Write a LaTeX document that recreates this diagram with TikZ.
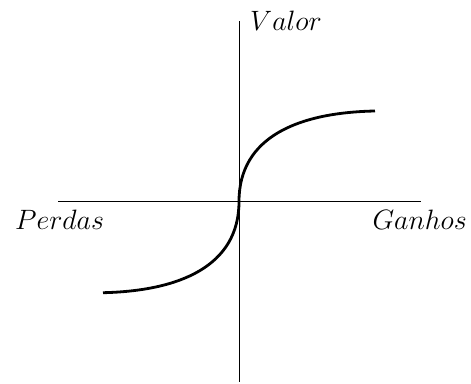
\documentclass[tikz,border=0pt]{standalone}
\begin{document}
\begin{tikzpicture}[x=1pt,y=-1pt,
  axis/.style={line width=0.9pt},
  curve/.style={line width=2.8pt},
  lbl/.style={inner sep=0pt,scale=1.125,font=\fontsize{24.88}{30}\selectfont}]
\useasboundingbox (0,0) rectangle (471,383);
\coordinate (o) at (239,201.5);
\coordinate (xl) at (58,201.5);
\coordinate (xr) at (421,201.5);
\coordinate (yt) at (239,21);
\coordinate (yb) at (239,382);
\coordinate (p) at (103,292.7);
\coordinate (g) at (375,111);
\draw[axis] (xl) -- (xr);
\draw[axis] (yt) -- (yb);
\draw[curve] (p) .. controls (179,291) and (239,266.5) .. (o)
  .. controls (239,136.5) and (299,112.5) .. (g);
\node[lbl,anchor=base west] (v) at (250,30) {$Valor$};
\node[lbl,anchor=base west] (pe) at (15,229) {$Perdas$};
\node[lbl,anchor=base east] (ga) at (467,229) {$Ganhos$};
\end{tikzpicture}
\end{document}
